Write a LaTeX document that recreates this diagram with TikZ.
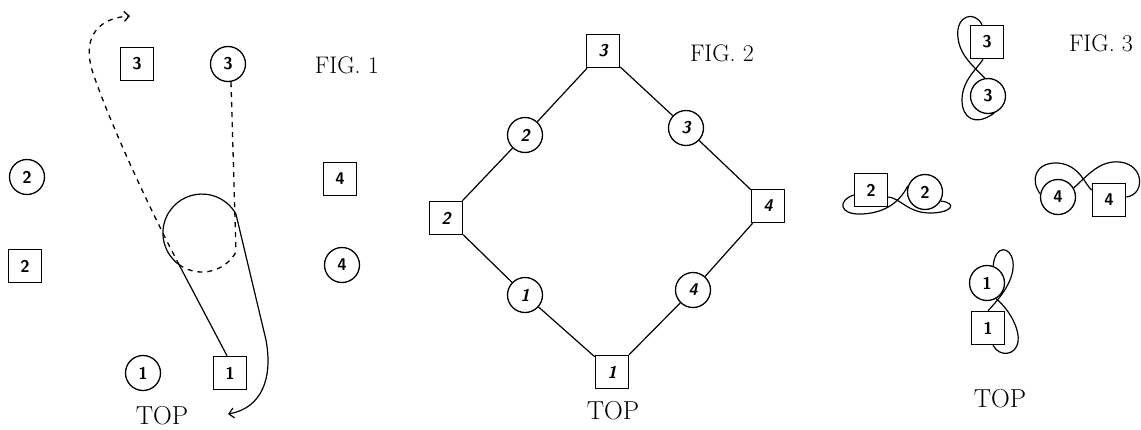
\documentclass[tikz,border=0pt]{standalone}
\usetikzlibrary{arrows.meta}
\begin{document}
\begin{tikzpicture}[x=1pt,y=-1pt,
  sq/.style={draw,line width=1.5pt,minimum size=33pt,inner sep=0pt,font=\sffamily\bfseries\fontsize{17}{17}\selectfont},
  ci/.style={draw,circle,line width=1.3pt,minimum size=35pt,inner sep=0pt,font=\sffamily\bfseries\fontsize{17}{17}\selectfont},
  itl/.style={font=\sffamily\bfseries\slshape\fontsize{17}{17}\selectfont},
  figlabel/.style={font=\fontsize{24}{24}\selectfont},
  toplabel/.style={font=\fontsize{26}{26}\selectfont},
  wire/.style={line width=1.2pt},
  dashline/.style={line width=1.3pt,dash pattern=on 5pt off 5pt},
  barb/.style={-{Straight Barb[length=5pt,width=10pt]}}
]
\useasboundingbox (0,0) rectangle (1141,429);
% ---------- FIG 1 ----------
\node[sq] (s3a) at (137,64) {3};
\node[ci] (c3a) at (228,64) {3};
\node[ci] (c2a) at (27,177) {2};
\node[sq] (s4a) at (340,179) {4};
\node[sq] (s2a) at (25,266) {2};
\node[ci] (c4a) at (342,265) {4};
\node[ci] (c1a) at (143,373) {1};
\node[sq] (s1a) at (230,373) {1};
\node[figlabel] (f1) at (347,65) {FIG. 1};
\node[toplabel] (t1) at (162,416) {TOP};
\coordinate (la) at (179,264.6);
\coordinate (lb) at (235.8,213.5);
\coordinate (lc) at (236,252);
\coordinate (ea) at (130,16);
\coordinate (eb) at (228,414);
\draw[wire] ([xshift=-3pt]s1a.north) -- (la) arc[start angle=126,end angle=330,radius=39];
\draw[dashline] (la) arc[start angle=126,end angle=30,radius=39];
\draw[wire,barb] (lb) -- (266,340) .. controls (273,378) and (262,408) .. (eb);
\draw[dashline] ([xshift=3pt]c3a.south) -- (lc);
\draw[dashline,barb] (la) .. controls (140,190) and (105,110) .. (92,70) .. controls (82,35) and (100,18) .. (ea);
% ---------- FIG 2 ----------
\node[sq,itl] (s3b) at (603,51) {3};
\node[ci,itl] (c2b) at (525,135) {2};
\node[ci,itl] (c3b) at (686,128) {3};
\node[sq,itl] (s2b) at (446,218) {2};
\node[sq,itl] (s4b) at (768,206) {4};
\node[ci,itl] (c1b) at (525,295) {1};
\node[ci,itl] (c4b) at (693,290) {4};
\node[sq,itl] (s1b) at (612,372) {1};
\node[figlabel] (f2) at (722,53) {FIG. 2};
\node[toplabel] (t2) at (613,411) {TOP};
\draw[wire] (s3b) -- (c2b) -- (s2b) -- (c1b) -- (s1b) -- (c4b) -- (s4b) -- (c3b) -- (s3b);
% ---------- FIG 3 ----------
\node[sq] (s3c) at (987,42) {3};
\node[ci] (c3c) at (988,96) {3};
\node[sq] (s2c) at (871,190) {2};
\node[ci] (c2c) at (925,192) {2};
\node[ci] (c4c) at (1058,197) {4};
\node[sq] (s4c) at (1109,200) {4};
\node[ci] (c1c) at (987,283) {1};
\node[sq] (s1c) at (988,328) {1};
\node[figlabel] (f3) at (1101,43) {FIG. 3};
\node[toplabel] (t3) at (1000,399) {TOP};
% top pair
\draw[wire] ([xshift=-5pt]s3c.north) .. controls (975,10) and (955,15) .. (958,38) .. controls (960,55) and (972,65) .. (c3c.100);
\draw[wire] ([xshift=-4pt]s3c.south) .. controls (978,68) and (962,80) .. (962,100) .. controls (962,118) and (975,127) .. (c3c.-70);
% left pair
\draw[wire] ([yshift=-5pt]s2c.west) .. controls (838,200) and (838,215) .. (862,214) .. controls (882,213) and (898,205) .. (c2c.160);
\draw[wire] ([yshift=-7pt]s2c.east) .. controls (900,198) and (908,213) .. (930,213) .. controls (952,213) and (958,203) .. (c2c.-30);
% right pair
\draw[wire] ([yshift=3pt]s4c.east) .. controls (1145,195) and (1145,165) .. (1120,162) .. controls (1100,160) and (1088,175) .. (c4c.30);
\draw[wire] ([yshift=10pt]s4c.west) .. controls (1085,185) and (1080,165) .. (1058,163) .. controls (1035,162) and (1030,180) .. (c4c.170);
% bottom pair
\draw[wire] (s1c.north) .. controls (1000,298) and (1015,280) .. (1013,262) .. controls (1011,246) and (995,244) .. (c1c.70);
\draw[wire] (c1c.-60) .. controls (1010,310) and (1020,330) .. (1018,342) .. controls (1016,355) and (1000,358) .. ([xshift=5pt]s1c.south);
\end{tikzpicture}
\end{document}
